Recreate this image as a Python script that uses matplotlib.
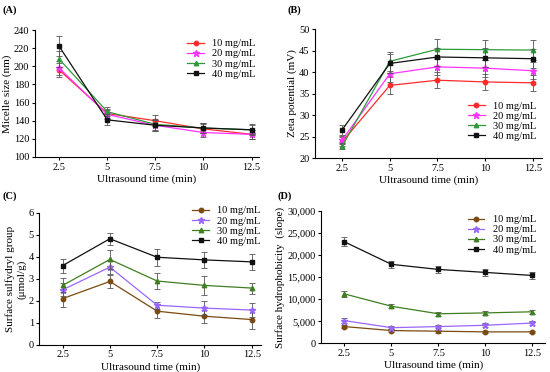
import numpy as np
import matplotlib.pyplot as plt

plt.rcParams['font.family'] = ['Liberation Serif', 'DejaVu Serif']
plt.rcParams['font.size'] = 7.5
plt.rcParams['axes.linewidth'] = 0.8

time = [2.5, 5, 7.5, 10, 12.5]
conc = ['10 mg/mL', '20 mg/mL', '30 mg/mL', '40 mg/mL']

# (A) micelle size (nm)
size_mean = [[196, 148, 140, 131, 125],
             [198, 147, 135, 127, 125],
             [208, 150, 136, 132, 130],
             [222, 141, 135, 132, 130]]
size_err = [[8, 5, 6, 5, 5],
            [8, 5, 6, 5, 5],
            [9, 5, 6, 5, 5],
            [11, 6, 6, 6, 6]]

# (B) zeta potential (mV)
zeta_mean = [[23.8, 36.9, 38.1, 37.7, 37.5],
             [24.2, 39.6, 41.2, 40.9, 40.3],
             [22.8, 42.5, 45.3, 45.2, 45.1],
             [26.6, 42.0, 43.5, 43.3, 43.1]]
zeta_err = [[1.0, 1.9, 1.9, 1.9, 1.9],
            [1.0, 2.0, 2.0, 2.0, 2.0],
            [0.8, 2.2, 2.3, 2.3, 2.3],
            [1.2, 2.2, 2.2, 2.2, 2.2]]

# (C) surface sulfydryl group (umol/g)
sh_mean = [[2.10, 2.88, 1.53, 1.30, 1.15],
           [2.50, 3.53, 1.80, 1.67, 1.58],
           [2.70, 3.88, 2.90, 2.70, 2.58],
           [3.60, 4.82, 3.98, 3.86, 3.77]]
sh_err = [[0.38, 0.28, 0.32, 0.30, 0.45],
          [0.30, 0.30, 0.15, 0.32, 0.30],
          [0.32, 0.45, 0.38, 0.45, 0.25],
          [0.32, 0.28, 0.38, 0.35, 0.35]]

# (D) surface hydrophobicity (slope)
h0_mean = [[3800, 2900, 2750, 2600, 2600],
           [5150, 3550, 3800, 4100, 4600],
           [11200, 8400, 6700, 6900, 7150],
           [23000, 17900, 16750, 16070, 15380]]
h0_err = [[400, 300, 300, 300, 300],
          [500, 400, 400, 400, 500],
          [700, 500, 400, 500, 500],
          [1000, 800, 700, 700, 700]]

colors_top = ['#ff2a2a', '#ff33ff', '#2e9a3a', '#111111']
colors_bot = ['#7a4a10', '#9966ff', '#3f7f1f', '#111111']
markers = ['o', '*', '^', 's']

fig = plt.figure(figsize=(5.5, 3.72), dpi=100)


def panel(rect, means, errs, colors, ylim, yticks, ylabel, xlim, leg_pos, tag, tag_xy):
    ax = fig.add_axes(rect)
    for m, e, c, mk, lab in zip(means, errs, colors, markers, conc):
        ax.errorbar(time, m, yerr=e, fmt='none', ecolor='#555555',
                    elinewidth=0.6, capsize=2, capthick=0.6)
        ax.plot(time, m, color=c, marker=mk, ms=4.5 if mk == '*' else 3.2,
                lw=0.9, label=lab)
    ax.set_xlim(*xlim)
    ax.set_ylim(*ylim)
    ax.set_xticks(time)
    ax.set_xticklabels(['2.5', '5', '7.5', '10', '12.5'])
    ax.set_yticks(yticks)
    ax.spines['top'].set_visible(False)
    ax.spines['right'].set_visible(False)
    ax.tick_params(direction='out', length=2.5, width=0.8, pad=1.5, labelsize=7.5)
    ax.set_xlabel('Ultrasound time (min)', fontsize=8, labelpad=2)
    ax.set_ylabel(ylabel, fontsize=8, labelpad=1.5)
    ax.legend(loc='upper left', bbox_to_anchor=leg_pos, frameon=False,
              fontsize=7.5, borderpad=0, borderaxespad=0, labelspacing=0.08,
              handlelength=1.6, handletextpad=0.8)
    fig.text(tag_xy[0], tag_xy[1], tag, fontsize=7.5, fontweight='bold',
             va='top', ha='left')
    return ax


panel([0.0636, 0.578, 0.407, 0.341], size_mean, size_err, colors_top,
      (100, 240), range(100, 241, 20), 'Micelle size (nm)', (1.24, 12.88),
      (0.68, 0.93), '(A)', (0.005, 0.985))

panel([0.573, 0.575, 0.413, 0.347], zeta_mean, zeta_err, colors_top,
      (20, 50), range(20, 51, 5), 'Zeta potential (mV)', (1.08, 13.0),
      (0.673, 0.44), '(B)', (0.522, 0.985))

panel([0.0715, 0.073, 0.403, 0.355], sh_mean, sh_err, colors_bot,
      (0, 6), range(0, 7), 'Surface sulfydryl group\n(\u03bcmol/g)', (1.27, 12.99),
      (0.69, 1.05), '(C)', (0.005, 0.485))

ax = panel([0.584, 0.077, 0.407, 0.356], h0_mean, h0_err, colors_bot,
           (0, 30000), range(0, 30001, 5000), 'Surface hydrophobicity  (slope)',
           (1.26, 13.18), (0.655, 0.97), '(D)', (0.505, 0.485))
ax.set_yticklabels(['0'] + ['{:,}'.format(v) for v in range(5000, 30001, 5000)])

fig.savefig('out.png', dpi=100)
